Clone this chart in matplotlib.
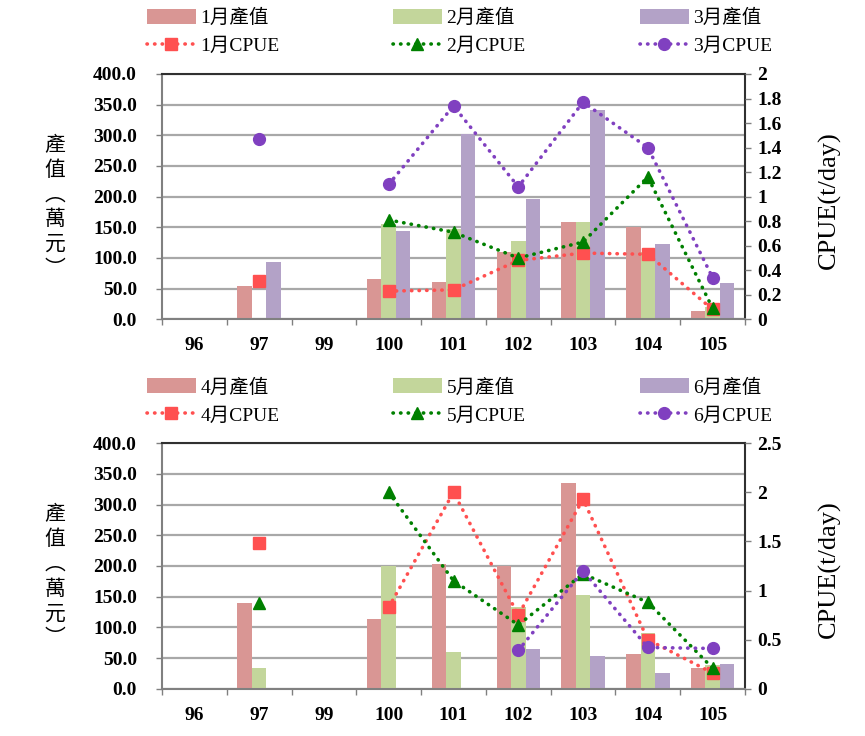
import numpy as np
import matplotlib
matplotlib.use("Agg")
import matplotlib.pyplot as plt
from matplotlib.lines import Line2D
from matplotlib.patches import Patch

nan = np.nan
years = ['96', '97', '99', '100', '101', '102', '103', '104', '105']

# Top panel (Jan-Mar)
val_m1 = [nan, 55, nan, 65, 61, 110, 158, 150, 14]
val_m2 = [nan, nan, nan, 155, 148, 127, 158, 110, 20]
val_m3 = [nan, 94, nan, 144, 302, 196, 341, 122, 60]
cpue_m1 = [nan, 0.31, nan, 0.23, 0.24, 0.48, 0.54, 0.53, 0.08]
cpue_m2 = [nan, nan, nan, 0.81, 0.71, 0.50, 0.63, 1.16, 0.09]
cpue_m3 = [nan, 1.47, nan, 1.10, 1.74, 1.08, 1.77, 1.40, 0.34]

# Bottom panel (Apr-Jun)
val_m4 = [nan, 139, nan, 113, 204, 200, 336, 57, 34]
val_m5 = [nan, 33, nan, 200, 60, 133, 153, 90, 38]
val_m6 = [nan, nan, nan, nan, nan, 65, 54, 26, 40]
cpue_m4 = [nan, 1.48, nan, 0.83, 2.00, 0.75, 1.93, 0.50, 0.16]
cpue_m5 = [nan, 0.87, nan, 2.00, 1.10, 0.65, 1.17, 0.88, 0.21]
cpue_m6 = [nan, nan, nan, nan, nan, 0.39, 1.20, 0.42, 0.41]

months_top = ['1月', '2月', '3月']
months_bot = ['4月', '5月', '6月']

bar_colors = ['#D99694', '#C3D69B', '#B3A2C7']
line_colors = ['#FF5050', '#008000', '#8040C0']
markers = ['s', '^', 'o']
msizes = [8, 8, 8.5]

SERIF = ['Liberation Serif', 'Noto Sans CJK TC']
CJK = ['Noto Sans CJK TC', 'DejaVu Sans']
TICKFS = 14

W, H = 865, 736
fig = plt.figure(figsize=(W / 100, H / 100), dpi=100)


def fx(px):
    return px / W


def fy(py):
    return 1 - py / H


def panel(top_px, bottom_px, vals, cpues, months, cmax, cstep, cfmt):
    dy = top_px - 74
    ax = fig.add_axes([fx(162), fy(bottom_px), fx(745) - fx(162), fy(top_px) - fy(bottom_px)])
    x = np.arange(len(years))
    w = 0.224
    for i, (v, c) in enumerate(zip(vals, bar_colors)):
        ax.bar(x + (i - 1) * w, v, width=w, color=c, edgecolor='none', zorder=2)
    ax.set_xlim(-0.5, len(years) - 0.5)
    ax.set_ylim(0, 400)
    ax.set_yticks(np.arange(0, 401, 50))
    ax.set_yticklabels([f"{t:.1f}" for t in np.arange(0, 401, 50)],
                       fontfamily='Liberation Serif', fontweight='bold', fontsize=TICKFS)
    ax.yaxis.grid(True, color='#A8A8A8', linewidth=1.6, zorder=0)
    ax.set_axisbelow(True)
    ax.set_xticks(x)
    ax.set_xticklabels(years, fontfamily='Liberation Serif', fontweight='bold', fontsize=TICKFS)
    ax.tick_params(axis='x', which='major', length=0, pad=13)
    ax.set_xticks(np.arange(-0.5, len(years), 1.0), minor=True)
    ax.tick_params(axis='x', which='minor', length=4, color='#808080', width=1)
    ax.tick_params(axis='y', length=4, color='#808080', width=1, pad=14)
    for s in ['left', 'bottom']:
        ax.spines[s].set_color('#808080')
        ax.spines[s].set_linewidth(1.5)
    for s in ['top', 'right']:
        ax.spines[s].set_color('#303030')
        ax.spines[s].set_linewidth(1.5)

    ax2 = ax.twinx()
    for i, c in enumerate(cpues):
        ax2.plot(x, c, color=line_colors[i], linestyle=(0, (0.1, 2.0)),
                 linewidth=2.6, dash_capstyle='round',
                 marker=markers[i], markersize=msizes[i],
                 markerfacecolor=line_colors[i], markeredgecolor=line_colors[i], zorder=3)
    ax2.set_ylim(0, cmax)
    ticks = np.arange(0, cmax + 1e-9, cstep)
    ax2.set_yticks(ticks)
    ax2.set_yticklabels([cfmt(t) for t in ticks], fontfamily='Liberation Serif',
                        fontweight='bold', fontsize=TICKFS)
    ax2.tick_params(axis='y', length=4, color='#808080', width=1, pad=5)
    for s in ax2.spines.values():
        s.set_visible(False)

    # right label
    fig.text(fx(829), fy(200 + dy), 'CPUE(t/day)', rotation=90,
             ha='center', va='center', fontfamily='Liberation Serif', fontsize=19)
    # left label (vertical stacked characters)
    fig.text(fx(55), fy(dy + 207), '產\n值\n︵\n萬\n元\n︶', ha='center', va='center',
             multialignment='center', linespacing=1.16,
             fontfamily=CJK, fontsize=15, fontweight='light')

    # legends: one per column
    col_x = [147, 393, 640]
    for i in range(3):
        h_bar = Patch(facecolor=bar_colors[i], edgecolor='none')
        h_line = Line2D([], [], color=line_colors[i], linestyle=(0, (0.1, 2.0)), linewidth=2.6,
                        dash_capstyle='round', marker=markers[i], markersize=msizes[i])
        fig.legend([h_bar, h_line], [months[i] + '產值', months[i] + 'CPUE'],
                   loc='upper left',
                   bbox_to_anchor=(fx(col_x[i]), fy(dy + 9)),
                   frameon=False, borderpad=0, borderaxespad=0,
                   handlelength=2.5, handleheight=0.8, handletextpad=0.25,
                   labelspacing=0.5,
                   prop={'family': SERIF, 'size': 14})
    return ax, ax2


fmt = lambda t: ('0' if abs(t) < 1e-9 else ('%g' % round(t, 1)))
panel(74, 319.3, [val_m1, val_m2, val_m3], [cpue_m1, cpue_m2, cpue_m3], months_top, 2.0, 0.2, fmt)
panel(443.3, 688.7, [val_m4, val_m5, val_m6], [cpue_m4, cpue_m5, cpue_m6], months_bot, 2.5, 0.5, fmt)

fig.savefig('out.png', dpi=100)
